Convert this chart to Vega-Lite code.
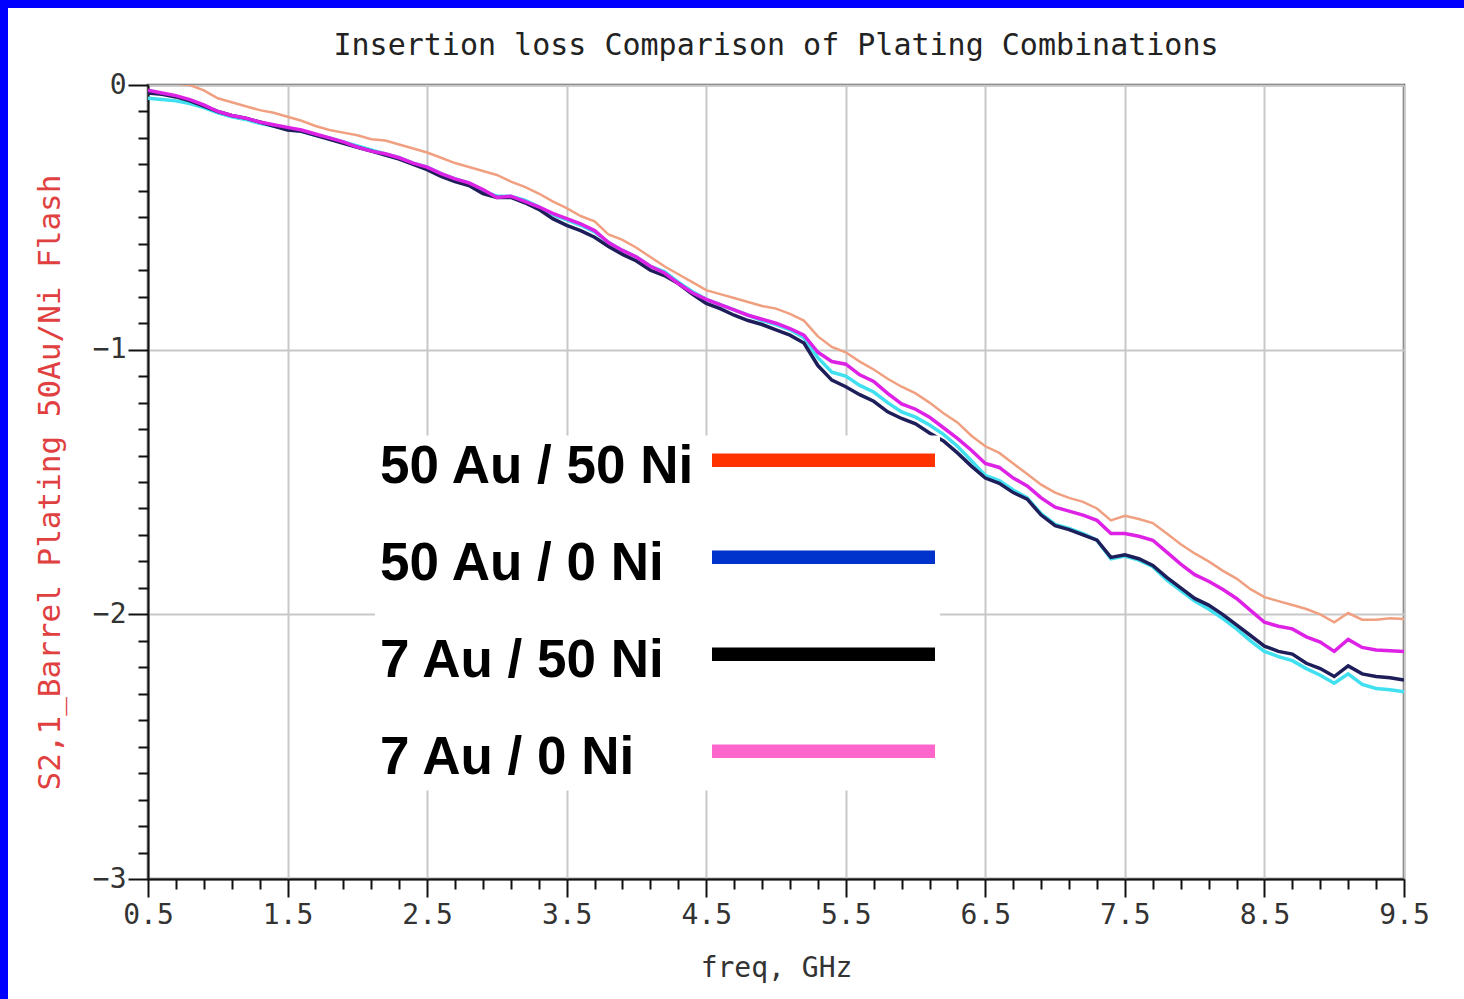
{
  "$schema": "https://vega.github.io/schema/vega-lite/v6.json",
  "width": 1256,
  "height": 794,
  "autosize": {"type": "none"},
  "padding": {"left": 148, "top": 85, "right": 60, "bottom": 120},
  "background": "white",
  "title": {"text": "Insertion loss Comparison of Plating Combinations", "font": "DejaVu Sans Mono", "fontSize": 30, "fontWeight": "normal", "color": "#222", "offset": -85, "baseline": "alphabetic", "frame": "group", "anchor": "middle"},
  "config": {"view": {"stroke": "#555", "strokeWidth": 2.5}},
  "layer": [
    {
      "data": {"values": [
        {"f":0.5,"50 Au / 50 Ni":0.01,"50 Au / 0 Ni":-0.05,"7 Au / 50 Ni":-0.03,"7 Au / 0 Ni":-0.02},
        {"f":0.6,"50 Au / 50 Ni":0.01,"50 Au / 0 Ni":-0.055,"7 Au / 50 Ni":-0.035,"7 Au / 0 Ni":-0.03},
        {"f":0.7,"50 Au / 50 Ni":0.005,"50 Au / 0 Ni":-0.06,"7 Au / 50 Ni":-0.045,"7 Au / 0 Ni":-0.04},
        {"f":0.8,"50 Au / 50 Ni":0.0,"50 Au / 0 Ni":-0.07,"7 Au / 50 Ni":-0.06,"7 Au / 0 Ni":-0.055},
        {"f":0.9,"50 Au / 50 Ni":-0.02,"50 Au / 0 Ni":-0.085,"7 Au / 50 Ni":-0.08,"7 Au / 0 Ni":-0.075},
        {"f":1.0,"50 Au / 50 Ni":-0.05,"50 Au / 0 Ni":-0.105,"7 Au / 50 Ni":-0.1,"7 Au / 0 Ni":-0.1},
        {"f":1.1,"50 Au / 50 Ni":-0.065,"50 Au / 0 Ni":-0.12,"7 Au / 50 Ni":-0.115,"7 Au / 0 Ni":-0.115},
        {"f":1.2,"50 Au / 50 Ni":-0.08,"50 Au / 0 Ni":-0.13,"7 Au / 50 Ni":-0.125,"7 Au / 0 Ni":-0.125},
        {"f":1.3,"50 Au / 50 Ni":-0.095,"50 Au / 0 Ni":-0.145,"7 Au / 50 Ni":-0.14,"7 Au / 0 Ni":-0.14},
        {"f":1.4,"50 Au / 50 Ni":-0.105,"50 Au / 0 Ni":-0.155,"7 Au / 50 Ni":-0.155,"7 Au / 0 Ni":-0.15},
        {"f":1.5,"50 Au / 50 Ni":-0.12,"50 Au / 0 Ni":-0.165,"7 Au / 50 Ni":-0.17,"7 Au / 0 Ni":-0.16},
        {"f":1.6,"50 Au / 50 Ni":-0.135,"50 Au / 0 Ni":-0.175,"7 Au / 50 Ni":-0.175,"7 Au / 0 Ni":-0.17},
        {"f":1.7,"50 Au / 50 Ni":-0.155,"50 Au / 0 Ni":-0.19,"7 Au / 50 Ni":-0.19,"7 Au / 0 Ni":-0.185},
        {"f":1.8,"50 Au / 50 Ni":-0.17,"50 Au / 0 Ni":-0.2,"7 Au / 50 Ni":-0.205,"7 Au / 0 Ni":-0.2},
        {"f":1.9,"50 Au / 50 Ni":-0.18,"50 Au / 0 Ni":-0.215,"7 Au / 50 Ni":-0.22,"7 Au / 0 Ni":-0.215},
        {"f":2.0,"50 Au / 50 Ni":-0.19,"50 Au / 0 Ni":-0.23,"7 Au / 50 Ni":-0.235,"7 Au / 0 Ni":-0.235},
        {"f":2.1,"50 Au / 50 Ni":-0.205,"50 Au / 0 Ni":-0.245,"7 Au / 50 Ni":-0.25,"7 Au / 0 Ni":-0.25},
        {"f":2.2,"50 Au / 50 Ni":-0.21,"50 Au / 0 Ni":-0.26,"7 Au / 50 Ni":-0.265,"7 Au / 0 Ni":-0.26},
        {"f":2.3,"50 Au / 50 Ni":-0.225,"50 Au / 0 Ni":-0.275,"7 Au / 50 Ni":-0.28,"7 Au / 0 Ni":-0.275},
        {"f":2.4,"50 Au / 50 Ni":-0.24,"50 Au / 0 Ni":-0.295,"7 Au / 50 Ni":-0.3,"7 Au / 0 Ni":-0.295},
        {"f":2.5,"50 Au / 50 Ni":-0.255,"50 Au / 0 Ni":-0.31,"7 Au / 50 Ni":-0.32,"7 Au / 0 Ni":-0.31},
        {"f":2.6,"50 Au / 50 Ni":-0.275,"50 Au / 0 Ni":-0.335,"7 Au / 50 Ni":-0.345,"7 Au / 0 Ni":-0.335},
        {"f":2.7,"50 Au / 50 Ni":-0.295,"50 Au / 0 Ni":-0.355,"7 Au / 50 Ni":-0.365,"7 Au / 0 Ni":-0.355},
        {"f":2.8,"50 Au / 50 Ni":-0.31,"50 Au / 0 Ni":-0.37,"7 Au / 50 Ni":-0.38,"7 Au / 0 Ni":-0.37},
        {"f":2.9,"50 Au / 50 Ni":-0.325,"50 Au / 0 Ni":-0.4,"7 Au / 50 Ni":-0.41,"7 Au / 0 Ni":-0.395},
        {"f":3.0,"50 Au / 50 Ni":-0.34,"50 Au / 0 Ni":-0.42,"7 Au / 50 Ni":-0.425,"7 Au / 0 Ni":-0.425},
        {"f":3.1,"50 Au / 50 Ni":-0.365,"50 Au / 0 Ni":-0.42,"7 Au / 50 Ni":-0.425,"7 Au / 0 Ni":-0.42},
        {"f":3.2,"50 Au / 50 Ni":-0.385,"50 Au / 0 Ni":-0.435,"7 Au / 50 Ni":-0.445,"7 Au / 0 Ni":-0.44},
        {"f":3.3,"50 Au / 50 Ni":-0.41,"50 Au / 0 Ni":-0.46,"7 Au / 50 Ni":-0.47,"7 Au / 0 Ni":-0.46},
        {"f":3.4,"50 Au / 50 Ni":-0.44,"50 Au / 0 Ni":-0.49,"7 Au / 50 Ni":-0.505,"7 Au / 0 Ni":-0.485},
        {"f":3.5,"50 Au / 50 Ni":-0.465,"50 Au / 0 Ni":-0.51,"7 Au / 50 Ni":-0.53,"7 Au / 0 Ni":-0.505},
        {"f":3.6,"50 Au / 50 Ni":-0.495,"50 Au / 0 Ni":-0.53,"7 Au / 50 Ni":-0.55,"7 Au / 0 Ni":-0.525},
        {"f":3.7,"50 Au / 50 Ni":-0.515,"50 Au / 0 Ni":-0.555,"7 Au / 50 Ni":-0.575,"7 Au / 0 Ni":-0.55},
        {"f":3.8,"50 Au / 50 Ni":-0.565,"50 Au / 0 Ni":-0.595,"7 Au / 50 Ni":-0.61,"7 Au / 0 Ni":-0.595},
        {"f":3.9,"50 Au / 50 Ni":-0.585,"50 Au / 0 Ni":-0.625,"7 Au / 50 Ni":-0.64,"7 Au / 0 Ni":-0.625},
        {"f":4.0,"50 Au / 50 Ni":-0.615,"50 Au / 0 Ni":-0.65,"7 Au / 50 Ni":-0.665,"7 Au / 0 Ni":-0.65},
        {"f":4.1,"50 Au / 50 Ni":-0.65,"50 Au / 0 Ni":-0.685,"7 Au / 50 Ni":-0.7,"7 Au / 0 Ni":-0.685},
        {"f":4.2,"50 Au / 50 Ni":-0.685,"50 Au / 0 Ni":-0.705,"7 Au / 50 Ni":-0.72,"7 Au / 0 Ni":-0.71},
        {"f":4.3,"50 Au / 50 Ni":-0.715,"50 Au / 0 Ni":-0.745,"7 Au / 50 Ni":-0.75,"7 Au / 0 Ni":-0.75},
        {"f":4.4,"50 Au / 50 Ni":-0.745,"50 Au / 0 Ni":-0.78,"7 Au / 50 Ni":-0.79,"7 Au / 0 Ni":-0.785},
        {"f":4.5,"50 Au / 50 Ni":-0.775,"50 Au / 0 Ni":-0.81,"7 Au / 50 Ni":-0.825,"7 Au / 0 Ni":-0.81},
        {"f":4.6,"50 Au / 50 Ni":-0.79,"50 Au / 0 Ni":-0.83,"7 Au / 50 Ni":-0.845,"7 Au / 0 Ni":-0.83},
        {"f":4.7,"50 Au / 50 Ni":-0.805,"50 Au / 0 Ni":-0.85,"7 Au / 50 Ni":-0.87,"7 Au / 0 Ni":-0.85},
        {"f":4.8,"50 Au / 50 Ni":-0.82,"50 Au / 0 Ni":-0.87,"7 Au / 50 Ni":-0.89,"7 Au / 0 Ni":-0.87},
        {"f":4.9,"50 Au / 50 Ni":-0.835,"50 Au / 0 Ni":-0.89,"7 Au / 50 Ni":-0.905,"7 Au / 0 Ni":-0.885},
        {"f":5.0,"50 Au / 50 Ni":-0.845,"50 Au / 0 Ni":-0.905,"7 Au / 50 Ni":-0.925,"7 Au / 0 Ni":-0.9},
        {"f":5.1,"50 Au / 50 Ni":-0.865,"50 Au / 0 Ni":-0.925,"7 Au / 50 Ni":-0.945,"7 Au / 0 Ni":-0.92},
        {"f":5.2,"50 Au / 50 Ni":-0.89,"50 Au / 0 Ni":-0.955,"7 Au / 50 Ni":-0.975,"7 Au / 0 Ni":-0.945},
        {"f":5.3,"50 Au / 50 Ni":-0.95,"50 Au / 0 Ni":-1.03,"7 Au / 50 Ni":-1.06,"7 Au / 0 Ni":-1.01},
        {"f":5.4,"50 Au / 50 Ni":-0.99,"50 Au / 0 Ni":-1.085,"7 Au / 50 Ni":-1.115,"7 Au / 0 Ni":-1.045},
        {"f":5.5,"50 Au / 50 Ni":-1.01,"50 Au / 0 Ni":-1.1,"7 Au / 50 Ni":-1.14,"7 Au / 0 Ni":-1.055},
        {"f":5.6,"50 Au / 50 Ni":-1.045,"50 Au / 0 Ni":-1.135,"7 Au / 50 Ni":-1.17,"7 Au / 0 Ni":-1.095},
        {"f":5.7,"50 Au / 50 Ni":-1.075,"50 Au / 0 Ni":-1.16,"7 Au / 50 Ni":-1.195,"7 Au / 0 Ni":-1.12},
        {"f":5.8,"50 Au / 50 Ni":-1.11,"50 Au / 0 Ni":-1.2,"7 Au / 50 Ni":-1.235,"7 Au / 0 Ni":-1.165},
        {"f":5.9,"50 Au / 50 Ni":-1.14,"50 Au / 0 Ni":-1.235,"7 Au / 50 Ni":-1.26,"7 Au / 0 Ni":-1.205},
        {"f":6.0,"50 Au / 50 Ni":-1.165,"50 Au / 0 Ni":-1.255,"7 Au / 50 Ni":-1.28,"7 Au / 0 Ni":-1.225},
        {"f":6.1,"50 Au / 50 Ni":-1.2,"50 Au / 0 Ni":-1.285,"7 Au / 50 Ni":-1.315,"7 Au / 0 Ni":-1.255},
        {"f":6.2,"50 Au / 50 Ni":-1.24,"50 Au / 0 Ni":-1.32,"7 Au / 50 Ni":-1.345,"7 Au / 0 Ni":-1.295},
        {"f":6.3,"50 Au / 50 Ni":-1.275,"50 Au / 0 Ni":-1.365,"7 Au / 50 Ni":-1.39,"7 Au / 0 Ni":-1.335},
        {"f":6.4,"50 Au / 50 Ni":-1.325,"50 Au / 0 Ni":-1.42,"7 Au / 50 Ni":-1.44,"7 Au / 0 Ni":-1.38},
        {"f":6.5,"50 Au / 50 Ni":-1.365,"50 Au / 0 Ni":-1.475,"7 Au / 50 Ni":-1.485,"7 Au / 0 Ni":-1.43},
        {"f":6.6,"50 Au / 50 Ni":-1.39,"50 Au / 0 Ni":-1.495,"7 Au / 50 Ni":-1.505,"7 Au / 0 Ni":-1.445},
        {"f":6.7,"50 Au / 50 Ni":-1.43,"50 Au / 0 Ni":-1.53,"7 Au / 50 Ni":-1.54,"7 Au / 0 Ni":-1.485},
        {"f":6.8,"50 Au / 50 Ni":-1.47,"50 Au / 0 Ni":-1.56,"7 Au / 50 Ni":-1.565,"7 Au / 0 Ni":-1.515},
        {"f":6.9,"50 Au / 50 Ni":-1.51,"50 Au / 0 Ni":-1.62,"7 Au / 50 Ni":-1.625,"7 Au / 0 Ni":-1.56},
        {"f":7.0,"50 Au / 50 Ni":-1.54,"50 Au / 0 Ni":-1.66,"7 Au / 50 Ni":-1.665,"7 Au / 0 Ni":-1.595},
        {"f":7.1,"50 Au / 50 Ni":-1.56,"50 Au / 0 Ni":-1.675,"7 Au / 50 Ni":-1.68,"7 Au / 0 Ni":-1.61},
        {"f":7.2,"50 Au / 50 Ni":-1.575,"50 Au / 0 Ni":-1.695,"7 Au / 50 Ni":-1.7,"7 Au / 0 Ni":-1.625},
        {"f":7.3,"50 Au / 50 Ni":-1.6,"50 Au / 0 Ni":-1.72,"7 Au / 50 Ni":-1.72,"7 Au / 0 Ni":-1.645},
        {"f":7.4,"50 Au / 50 Ni":-1.645,"50 Au / 0 Ni":-1.79,"7 Au / 50 Ni":-1.785,"7 Au / 0 Ni":-1.695},
        {"f":7.5,"50 Au / 50 Ni":-1.628,"50 Au / 0 Ni":-1.78,"7 Au / 50 Ni":-1.775,"7 Au / 0 Ni":-1.695},
        {"f":7.6,"50 Au / 50 Ni":-1.64,"50 Au / 0 Ni":-1.795,"7 Au / 50 Ni":-1.79,"7 Au / 0 Ni":-1.705},
        {"f":7.7,"50 Au / 50 Ni":-1.655,"50 Au / 0 Ni":-1.82,"7 Au / 50 Ni":-1.815,"7 Au / 0 Ni":-1.72},
        {"f":7.8,"50 Au / 50 Ni":-1.695,"50 Au / 0 Ni":-1.87,"7 Au / 50 Ni":-1.86,"7 Au / 0 Ni":-1.765},
        {"f":7.9,"50 Au / 50 Ni":-1.735,"50 Au / 0 Ni":-1.91,"7 Au / 50 Ni":-1.9,"7 Au / 0 Ni":-1.81},
        {"f":8.0,"50 Au / 50 Ni":-1.77,"50 Au / 0 Ni":-1.95,"7 Au / 50 Ni":-1.94,"7 Au / 0 Ni":-1.85},
        {"f":8.1,"50 Au / 50 Ni":-1.8,"50 Au / 0 Ni":-1.98,"7 Au / 50 Ni":-1.965,"7 Au / 0 Ni":-1.875},
        {"f":8.2,"50 Au / 50 Ni":-1.835,"50 Au / 0 Ni":-2.015,"7 Au / 50 Ni":-2.0,"7 Au / 0 Ni":-1.905},
        {"f":8.3,"50 Au / 50 Ni":-1.865,"50 Au / 0 Ni":-2.055,"7 Au / 50 Ni":-2.04,"7 Au / 0 Ni":-1.94},
        {"f":8.4,"50 Au / 50 Ni":-1.905,"50 Au / 0 Ni":-2.1,"7 Au / 50 Ni":-2.08,"7 Au / 0 Ni":-1.985},
        {"f":8.5,"50 Au / 50 Ni":-1.935,"50 Au / 0 Ni":-2.14,"7 Au / 50 Ni":-2.12,"7 Au / 0 Ni":-2.03},
        {"f":8.6,"50 Au / 50 Ni":-1.95,"50 Au / 0 Ni":-2.16,"7 Au / 50 Ni":-2.14,"7 Au / 0 Ni":-2.045},
        {"f":8.7,"50 Au / 50 Ni":-1.965,"50 Au / 0 Ni":-2.175,"7 Au / 50 Ni":-2.15,"7 Au / 0 Ni":-2.055},
        {"f":8.8,"50 Au / 50 Ni":-1.98,"50 Au / 0 Ni":-2.205,"7 Au / 50 Ni":-2.185,"7 Au / 0 Ni":-2.085},
        {"f":8.9,"50 Au / 50 Ni":-2.0,"50 Au / 0 Ni":-2.23,"7 Au / 50 Ni":-2.205,"7 Au / 0 Ni":-2.105},
        {"f":9.0,"50 Au / 50 Ni":-2.03,"50 Au / 0 Ni":-2.26,"7 Au / 50 Ni":-2.235,"7 Au / 0 Ni":-2.14},
        {"f":9.1,"50 Au / 50 Ni":-1.995,"50 Au / 0 Ni":-2.225,"7 Au / 50 Ni":-2.195,"7 Au / 0 Ni":-2.095},
        {"f":9.2,"50 Au / 50 Ni":-2.02,"50 Au / 0 Ni":-2.265,"7 Au / 50 Ni":-2.225,"7 Au / 0 Ni":-2.125},
        {"f":9.3,"50 Au / 50 Ni":-2.02,"50 Au / 0 Ni":-2.28,"7 Au / 50 Ni":-2.235,"7 Au / 0 Ni":-2.135},
        {"f":9.4,"50 Au / 50 Ni":-2.015,"50 Au / 0 Ni":-2.285,"7 Au / 50 Ni":-2.24,"7 Au / 0 Ni":-2.138},
        {"f":9.5,"50 Au / 50 Ni":-2.018,"50 Au / 0 Ni":-2.293,"7 Au / 50 Ni":-2.248,"7 Au / 0 Ni":-2.14}
      ]},
      "transform": [{"fold": ["50 Au / 0 Ni", "7 Au / 50 Ni", "7 Au / 0 Ni", "50 Au / 50 Ni"], "as": ["series", "loss"]}],
      "mark": {"type": "line", "clip": true},
      "encoding": {
        "x": {
          "field": "f", "type": "quantitative",
          "scale": {"domain": [0.5, 9.5], "nice": false, "zero": false},
          "axis": {
            "orient": "bottom",
            "values": [0.5, 1.5, 2.5, 3.5, 4.5, 5.5, 6.5, 7.5, 8.5, 9.5],
            "format": ".1f",
            "grid": true, "gridColor": "#c8c8c8", "gridWidth": 2,
            "domainColor": "#111", "domainWidth": 2,
            "tickColor": "#111", "tickWidth": 2, "tickSize": 18,
            "labelFont": "DejaVu Sans Mono", "labelFontSize": 28, "labelColor": "#333",
            "labelPadding": 4, "labelFlush": false, "labelOverlap": false,
            "title": "freq, GHz", "titleFont": "DejaVu Sans Mono", "titleFontSize": 28,
            "titleFontWeight": "normal", "titleColor": "#333", "titlePadding": 25
          }
        },
        "y": {
          "field": "loss", "type": "quantitative",
          "scale": {"domain": [-3, 0], "nice": false, "zero": false},
          "axis": {
            "orient": "left",
            "values": [0, -1, -2, -3],
            "format": "d",
            "grid": true, "gridColor": "#c8c8c8", "gridWidth": 2,
            "domainColor": "#111", "domainWidth": 2,
            "tickColor": "#111", "tickWidth": 2, "tickSize": 20,
            "labelFont": "DejaVu Sans Mono", "labelFontSize": 28, "labelColor": "#333",
            "labelPadding": 2, "labelOverlap": false,
            "title": "S2,1_Barrel Plating 50Au/Ni Flash", "titleFont": "DejaVu Sans Mono",
            "titleFontSize": 31, "titleFontWeight": "normal", "titleColor": "#E04040", "titlePadding": 26
          }
        },
        "color": {
          "field": "series", "type": "nominal",
          "scale": {
            "domain": ["50 Au / 0 Ni", "7 Au / 50 Ni", "7 Au / 0 Ni", "50 Au / 50 Ni"],
            "range": ["#40E0F0", "#1E1E5A", "#DD22E6", "#F0A080"]
          },
          "legend": null
        },
        "strokeWidth": {"condition": {"test": "datum.series === '50 Au / 50 Ni'", "value": 2.5}, "value": 3.5}
      }
    },
    {
      "data": {"values": [{}]},
      "mark": {"type": "rect", "color": "#0000FF", "clip": false},
      "encoding": {
        "x": {
          "datum": -0.5605, "type": "quantitative",
          "axis": {
            "orient": "bottom",
            "values": [0.7, 0.9, 1.1, 1.3, 1.7, 1.9, 2.1, 2.3, 2.7, 2.9, 3.1, 3.3, 3.7, 3.9, 4.1, 4.3, 4.7, 4.9, 5.1, 5.3, 5.7, 5.9, 6.1, 6.3, 6.7, 6.9, 7.1, 7.3, 7.7, 7.9, 8.1, 8.3, 8.7, 8.9, 9.1, 9.3],
            "labels": false, "domain": false, "grid": false,
            "tickColor": "#111", "tickWidth": 2, "tickSize": 10, "title": null
          }
        },
        "x2": {"datum": 9.93},
        "y": {
          "datum": 0.3212, "type": "quantitative",
          "axis": {
            "orient": "left",
            "values": [-0.1, -0.2, -0.3, -0.4, -0.5, -0.6, -0.7, -0.8, -0.9, -1.1, -1.2, -1.3, -1.4, -1.5, -1.6, -1.7, -1.8, -1.9, -2.1, -2.2, -2.3, -2.4, -2.5, -2.6, -2.7, -2.8, -2.9],
            "labels": false, "domain": false, "grid": false,
            "tickColor": "#111", "tickWidth": 2, "tickSize": 10, "title": null
          }
        },
        "y2": {"datum": 0.2909}
      }
    },
    {
      "data": {"values": [{}]},
      "mark": {"type": "rect", "color": "#0000FF", "clip": false},
      "encoding": {
        "x": {"datum": -0.5605, "type": "quantitative", "axis": null},
        "x2": {"datum": -0.5032},
        "y": {"datum": 0.3212, "type": "quantitative", "axis": null},
        "y2": {"datum": -3.4534}
      }
    },
    {
      "data": {"values": [
        {"series": "50 Au / 50 Ni"},
        {"series": "50 Au / 0 Ni"},
        {"series": "7 Au / 50 Ni"},
        {"series": "7 Au / 0 Ni"}
      ]},
      "mark": {"type": "point", "filled": true, "opacity": 0},
      "encoding": {
        "fill": {
          "field": "series", "type": "nominal",
          "scale": {
            "domain": ["50 Au / 50 Ni", "50 Au / 0 Ni", "7 Au / 50 Ni", "7 Au / 0 Ni"],
            "range": ["#FF3300", "#0033CC", "#000000", "#FF66CC"]
          },
          "legend": {
            "orient": "none", "legendX": 227, "legendY": 350.5,
            "title": null,
            "symbolType": "M -5 -0.6 L 5 -0.6 L 5 0 L -5 0 Z",
            "symbolSize": 1989,
            "symbolStrokeWidth": 0,
            "symbolOpacity": 1,
            "symbolOffset": 417,
            "labelOffset": -470,
            "labelFont": "Liberation Sans", "labelFontSize": 53, "labelFontWeight": "bold",
            "labelColor": "#000", "labelLimit": 0,
            "rowPadding": 43,
            "padding": 5,
            "fillColor": "white"
          }
        }
      }
    }
  ],
  "resolve": {"axis": {"x": "independent", "y": "independent"}}
}
